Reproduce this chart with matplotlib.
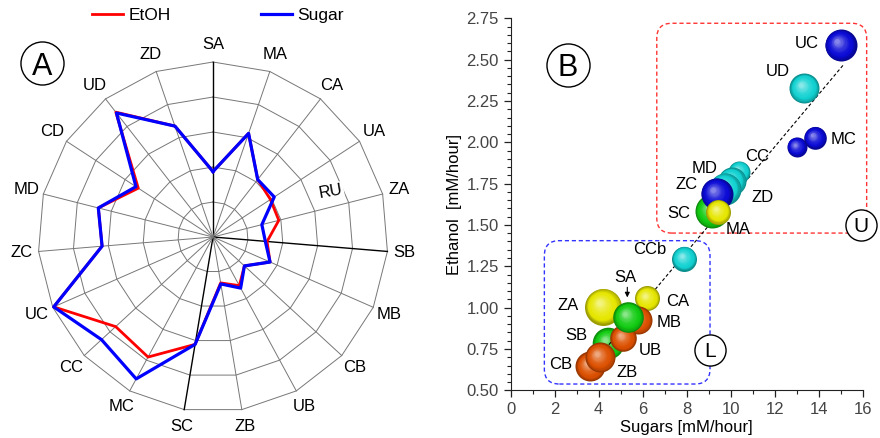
import numpy as np
import matplotlib
matplotlib.use('Agg')
import matplotlib.pyplot as plt
from matplotlib.patches import FancyBboxPatch
from matplotlib.colors import to_rgb
from matplotlib.transforms import offset_copy

plt.rcParams['font.family'] = ['Liberation Sans', 'DejaVu Sans']
plt.rcParams['font.size'] = 12

# --- panel A: radar (relative units, outer ring = 5)
categories = ['SA', 'MA', 'CA', 'UA', 'ZA', 'SB', 'MB', 'CB', 'UB', 'ZB',
              'SC', 'MC', 'CC', 'UC', 'ZC', 'MD', 'CD', 'UD', 'ZD']
etoh = [1.87, 3.13, 2.08, 1.96, 1.94, 1.55, 1.78, 1.22, 1.58, 1.33,
        3.11, 3.90, 3.78, 4.97, 3.18, 3.38, 2.55, 4.52, 3.35]
sugar = [1.87, 3.13, 2.08, 2.09, 1.44, 1.50, 1.78, 1.22, 1.66, 1.36,
         3.11, 4.61, 4.33, 4.97, 3.18, 3.38, 2.63, 4.49, 3.35]

# --- panel B: bubbles (listed back to front)
bubble_name = ['SB', 'ZA', 'CA', 'MB', 'CB', 'ZB', 'UB', 'SA', 'CCb',
               'D3', 'MD', 'ZD', 'SC', 'ZC', 'MA', 'CC', 'MC', 'UD', 'UC']
sugars_rate = [4.44, 4.21, 6.21, 5.80, 3.62, 4.06, 5.12, 5.35, 7.89,
               10.39, 10.05, 9.74, 9.15, 9.36, 9.44, 13.00, 13.83, 13.35, 15.00]
ethanol_rate = [0.784, 1.005, 1.056, 0.925, 0.645, 0.700, 0.815, 0.943, 1.296,
                1.822, 1.765, 1.720, 1.583, 1.690, 1.580, 1.973, 2.028, 2.327, 2.589]
bubble_size = [15.8, 18.5, 12.5, 14.0, 15.0, 15.0, 13.3, 15.3, 12.5,
               11.0, 14.0, 16.0, 17.0, 16.0, 12.5, 10.0, 11.3, 15.0, 16.0]
bubble_group = ['S', 'A', 'A', 'B', 'B', 'B', 'B', 'S', 'D',
                'D', 'D', 'D', 'S', 'C', 'A', 'C', 'C', 'D', 'C']

trend_sugar = [4.3, 15.1]
trend_ethanol = [0.75, 2.465]

label_text = ['UC', 'UD', 'MC', 'CC', 'MD', 'ZC', 'ZD', 'SC', 'MA', 'CCb',
              'ZA', 'CA', 'MB', 'SB', 'UB', 'CB', 'ZB']
label_x = [13.45, 12.16, 15.12, 11.18, 8.83, 8.0, 11.45, 7.62, 10.35, 6.3,
           2.62, 7.57, 7.2, 2.97, 6.36, 2.27, 5.3]
label_y = [2.599, 2.427, 2.014, 1.913, 1.843, 1.742, 1.667, 1.571, 1.47, 1.35,
           1.014, 1.038, 0.913, 0.833, 0.74, 0.659, 0.605]

group_colors = {'S': '#12cc12', 'A': '#e6e600', 'B': '#dc5000',
                'C': '#0a0ad6', 'D': '#12d2d2'}

W, H = 880, 438
fig = plt.figure(figsize=(W / 100, H / 100), dpi=100)


def fig_xy(px, py):
    return px / W, 1 - py / H


def circled(x, y, r_pt, letter, fs, transform, ax=None):
    host = ax if ax is not None else fig
    line = plt.Line2D([x], [y], marker='o', ms=2 * r_pt, mfc='white', mec='k',
                      mew=1.0, transform=transform, clip_on=False, zorder=20)
    host.add_artist(line)
    host.text(x, y, letter, fontsize=fs, ha='center', va='center_baseline',
              transform=transform, zorder=21)


# ===================== panel A
axA = fig.add_axes([0, 0, 0.5, 1])
cx, cy, unit = 213, 237, 35
axA.set_xlim(-cx / unit, (440 - cx) / unit)
axA.set_ylim(-(H - cy) / unit, cy / unit)
axA.axis('off')

n = len(categories)
theta = np.deg2rad(90 - np.arange(n) * 360 / n)
ring = np.append(theta, theta[0])
for k in range(1, 6):
    axA.plot(k * np.cos(ring), k * np.sin(ring), color='#777777', lw=0.7, zorder=1)
for t, name in zip(theta, categories):
    main = name in ('SA', 'SB', 'SC')
    axA.plot([0, 5 * np.cos(t)], [0, 5 * np.sin(t)], color='k' if main else '#777777',
             lw=1.0 if main else 0.7, zorder=1)
    axA.text(5.5 * np.cos(t), 5.5 * np.sin(t), name, ha='center', va='center', fontsize=12)

e = np.append(etoh, etoh[0])
s = np.append(sugar, sugar[0])
red, = axA.plot(e * np.cos(ring), e * np.sin(ring), color='#ff0000', lw=2.0, zorder=3,
                label='EtOH')
blue, = axA.plot(s * np.cos(ring), s * np.sin(ring), color='#0000ff', lw=2.3, zorder=4,
                 label='Sugar')
axA.text(3.36, 1.29, 'RU', rotation=10, fontsize=12, ha='center', va='center',
         bbox=dict(fc='white', ec='none', pad=1), zorder=2)

fig.legend(handles=[red, blue], loc='center left', bbox_to_anchor=fig_xy(92, 15),
           ncol=2, frameon=False, fontsize=12.5, handlelength=1.8, handletextpad=0.3,
           columnspacing=5.2, borderpad=0, borderaxespad=0)

circled(*fig_xy(41.7, 63.3), 15.5, 'A', 22, fig.transFigure)

# ===================== panel B
axB = fig.add_axes([510.7 / W, (H - 390.3) / H, 352 / W, 372 / H])
axB.set_xlim(0, 16)
axB.set_ylim(0.5, 2.75)
axB.set_xticks(np.arange(0, 17, 2))
axB.set_xticks(np.arange(0, 17, 1), minor=True)
axB.set_yticks(np.arange(0.5, 2.76, 0.25))
axB.set_yticks(np.arange(0.5, 2.76, 0.05), minor=True)
axB.yaxis.set_major_formatter(matplotlib.ticker.FormatStrFormatter('%.2f'))
for sp in ('top', 'right'):
    axB.spines[sp].set_visible(False)
for sp in ('left', 'bottom'):
    axB.spines[sp].set_color('#222222')
axB.tick_params(which='major', length=5, width=0.9, colors='#222222',
                labelcolor='#444444', labelsize=12)
axB.tick_params(which='minor', length=3, width=0.8, colors='#222222')
axB.set_xlabel('Sugars [mM/hour]', fontsize=12, labelpad=2)
axB.set_ylabel('Ethanol  [mM/hour]', fontsize=12, labelpad=3)


def sphere(ax, x, y, r, color, z):
    base = np.array(to_rgb(color))
    dark = base * 0.68
    light = base + (1 - base) * 0.5
    steps = 14
    for i in range(steps):
        t = i / (steps - 1)
        rr = r * (1 - 0.85 * t)
        shift = 0.22 * r * t * 0.72
        if t < 0.25:
            c = dark + (base - dark) * (t / 0.25)
        else:
            c = base + (light - base) * ((t - 0.25) / 0.75) ** 1.6
        tr = offset_copy(ax.transData, fig=ax.figure, x=-shift, y=shift, units='points')
        ax.scatter([x], [y], s=(2 * rr * 0.72) ** 2, color=[np.clip(c, 0, 1)], lw=0,
                   transform=tr, zorder=z + i * 0.01, clip_on=False)


axB.plot(trend_sugar, trend_ethanol, color='k', lw=0.8, dashes=(3, 2), zorder=2.5)
for i, (x, y, r, g) in enumerate(zip(sugars_rate, ethanol_rate, bubble_size, bubble_group)):
    sphere(axB, x, y, r, group_colors[g], 2 if i == 0 else 3 + i)

for txt, x, y in zip(label_text, label_x, label_y):
    axB.text(x, y, txt, ha='center', va='center', fontsize=12, zorder=40)
axB.text(5.2, 1.18, 'SA', ha='center', va='center', fontsize=12, zorder=40)
axB.annotate('', xy=(5.3, 1.045), xytext=(5.3, 1.14),
             arrowprops=dict(arrowstyle='-|>', color='k', lw=0.8, mutation_scale=7),
             zorder=40)

# dashed group boxes
px_x, px_y = 22.0, 165.33
for (x0, x1, y0, y1, col) in [(6.64, 16.18, 1.451, 2.72, '#ff3333'),
                              (1.53, 9.06, 0.538, 1.405, '#3333ff')]:
    box = FancyBboxPatch((x0, y0), x1 - x0, y1 - y0,
                         boxstyle='round,pad=0,rounding_size=%.3f' % (15 / px_x),
                         mutation_aspect=px_x / px_y, fc='none', ec=col, lw=1.0,
                         ls=(0, (3, 2)), clip_on=False, zorder=1)
    axB.add_patch(box)

circled(15.91, 1.50, 11.2, 'U', 15, axB.transData, axB)
circled(9.06, 0.746, 11.2, 'L', 15, axB.transData, axB)
circled(*fig_xy(567.7, 65), 15.5, 'B', 22, fig.transFigure)

fig.savefig('out.png', dpi=100)
